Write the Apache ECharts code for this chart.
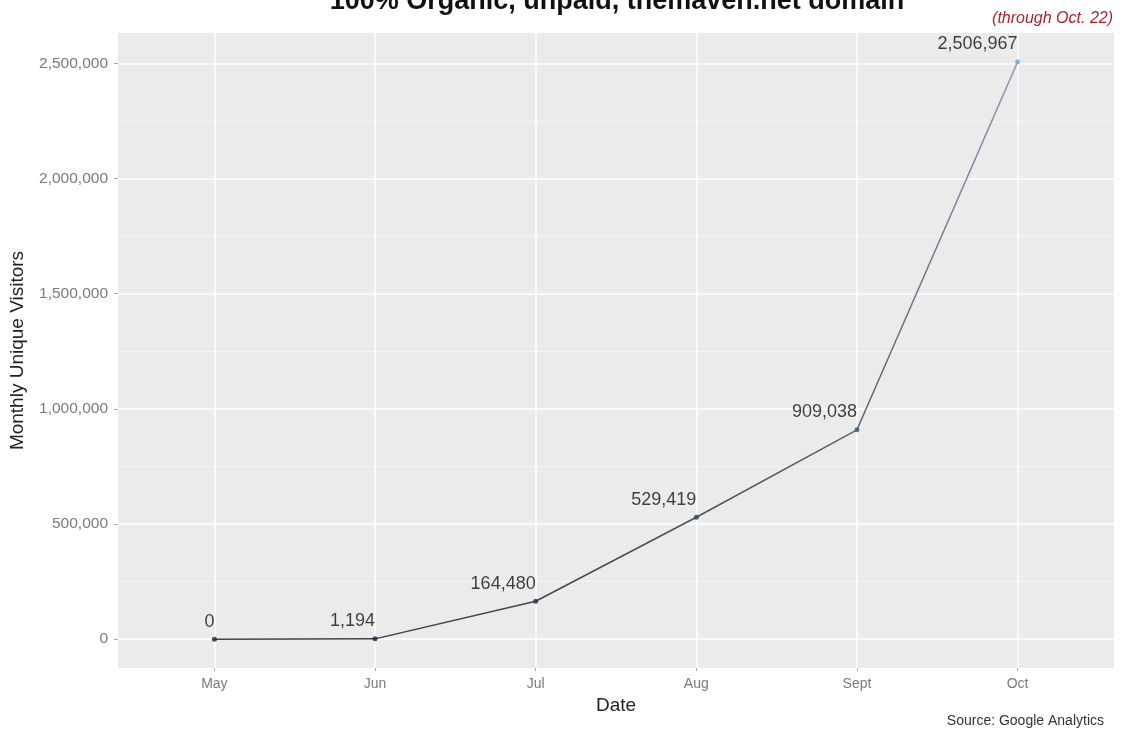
<!DOCTYPE html>
<html>
<head>
<meta charset="utf-8">
<script src="https://cdn.jsdelivr.net/npm/echarts@6/dist/echarts.min.js"></script>
<style>
  html, body { margin: 0; padding: 0; background: #fff; }
  #main { width: 1122px; height: 733px; }
</style>
</head>
<body>
<div id="main"></div>
<script>
var months = ['May', 'Jun', 'Jul', 'Aug', 'Sept', 'Oct'];
var visitors = [0, 1194, 164480, 529419, 909038, 2506967];
var yTicks = [0, 500000, 1000000, 1500000, 2000000, 2500000];
var yMinor = [250000, 750000, 1250000, 1750000, 2250000];

function fmt(v) {
    return String(v).replace(/\B(?=(\d{3})+(?!\d))/g, ',');
}

// ggplot style expansion: 5% on continuous, 0.6 on discrete
var yMax = Math.max.apply(null, visitors);
var yPad = yMax * 0.05;

var points = visitors.map(function (v, i) { return [i, v]; });
var xIdx = months.map(function (m, i) { return i; });

var myChart = echarts.init(document.getElementById('main'));

myChart.setOption({
    backgroundColor: '#fff',
    animation: false,
    title: [
        {
            text: '100% Organic, unpaid, themaven.net domain',
            left: 612, top: -17, textAlign: 'center',
            textStyle: { fontFamily: 'Liberation Sans', fontSize: 27, fontWeight: 'bold', color: '#111' }
        },
        {
            text: '(through Oct. 22)',
            right: 4, top: 6,
            textStyle: { fontFamily: 'Liberation Sans', fontSize: 16, fontStyle: 'italic', fontWeight: 'normal', color: '#a8242a' }
        },
        {
            text: 'Source: Google Analytics',
            right: 13, top: 709,
            textStyle: { fontFamily: 'Liberation Sans', fontSize: 14, fontWeight: 'normal', color: '#333' }
        }
    ],
    grid: {
        left: 118, right: 8, top: 33, bottom: 65,
        outerBoundsMode: 'none',
        show: true, backgroundColor: '#ebebeb', borderWidth: 0
    },
    xAxis: {
        type: 'value',
        min: -0.6, max: months.length - 1 + 0.6,
        name: 'Date', nameLocation: 'middle', nameGap: 26,
        nameTextStyle: { fontFamily: 'Liberation Sans', fontSize: 19, color: '#222' },
        axisLine: { show: false, onZero: false },
        axisTick: { show: true, customValues: xIdx, length: 3, lineStyle: { color: '#aaa' } },
        axisLabel: {
            customValues: xIdx, margin: 9,
            fontFamily: 'Liberation Sans', fontSize: 14, color: '#7a7a7a',
            formatter: function (v) { return months[Math.round(v)]; }
        },
        splitLine: { show: false }
    },
    yAxis: {
        type: 'value',
        min: -yPad, max: yMax + yPad,
        name: 'Monthly Unique Visitors', nameLocation: 'middle', nameGap: 91,
        nameTextStyle: { fontFamily: 'Liberation Sans', fontSize: 19, color: '#222' },
        axisLine: { show: false, onZero: false },
        axisTick: { show: true, customValues: yTicks, length: 4, lineStyle: { color: '#aaa' } },
        axisLabel: {
            customValues: yTicks, margin: 10,
            fontFamily: 'Liberation Sans', fontSize: 15.5, color: '#7a7a7a',
            formatter: function (v) { return fmt(v); }
        },
        splitLine: { show: false }
    },
    visualMap: [
        {
            show: false,
            type: 'continuous',
            seriesIndex: 1,
            dimension: 1,
            min: 0, max: yMax,
            inRange: { color: ['#132B43', '#56B1F7'] }
        },
        {
            show: false,
            type: 'continuous',
            seriesIndex: 2,
            dimension: 1,
            min: 0, max: yMax,
            inRange: { color: ['#3a404c', '#8e9cb8'] }
        }
    ],
    series: [
        {
            // panel gridlines, kept under the data
            type: 'line', data: [], silent: true, z: 0,
            markLine: {
                silent: true, symbol: 'none', label: { show: false }, z: 0,
                data: yMinor.map(function (v) { return { yAxis: v, lineStyle: { color: '#f5f5f5', width: 1, type: 'solid' } }; })
                    .concat(yTicks.map(function (v) { return { yAxis: v, lineStyle: { color: '#ffffff', width: 1.5, type: 'solid' } }; }))
                    .concat(xIdx.map(function (v) { return { xAxis: v, lineStyle: { color: '#ffffff', width: 1.5, type: 'solid' } }; }))
            }
        },
        {
            type: 'scatter',
            data: points,
            symbolSize: 5,
            z: 6,
            label: {
                show: true, position: 'top', align: 'right', distance: 6,
                fontFamily: 'Liberation Sans', fontSize: 18, color: '#111',
                formatter: function (p) { return fmt(p.value[1]); }
            }
        },
        {
            type: 'line',
            data: points,
            showSymbol: false,
            z: 5,
            lineStyle: { width: 1.5 }
        }
    ]
});
</script>
</body>
</html>
